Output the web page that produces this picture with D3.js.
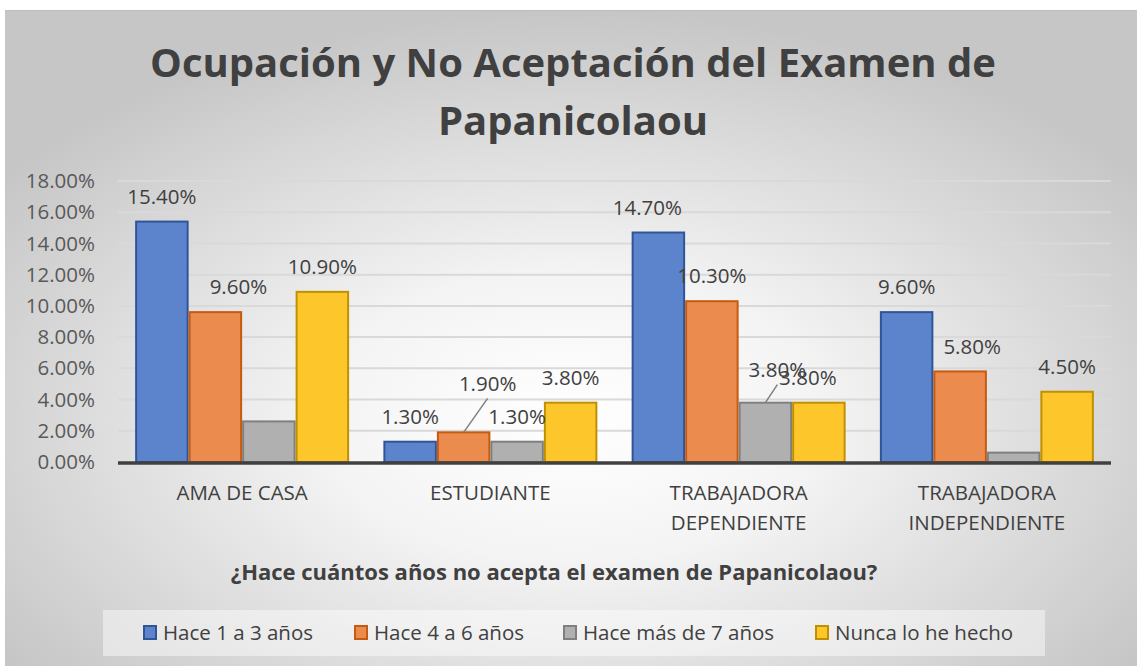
<!DOCTYPE html>
<html><head><meta charset="utf-8">
<script src="https://cdn.jsdelivr.net/npm/d3@7"></script>
<style>body{margin:0;background:#fff}svg{display:block}</style>
</head><body>
<svg id="c" width="1137" height="666"></svg>
<script>
const categories = [["AMA DE CASA"], ["ESTUDIANTE"], ["TRABAJADORA", "DEPENDIENTE"], ["TRABAJADORA", "INDEPENDIENTE"]];
const seriesNames = ["Hace 1 a 3 años", "Hace 4 a 6 años", "Hace más de 7 años", "Nunca lo he hecho"];
const hace1a3 = [15.4, 1.3, 14.7, 9.6];
const hace4a6 = [9.6, 1.9, 10.3, 5.8];
const haceMas7 = [2.6, 1.3, 3.8, 0.6];
const nunca = [10.9, 3.8, 3.8, 4.5];
const labelShown = [[true,true,true,true],[true,true,true,true],[false,true,true,false],[true,true,true,true]];
const yTicks = [0, 2, 4, 6, 8, 10, 12, 14, 16, 18];
const title = ["Ocupación y No Aceptación del Examen de", "Papanicolaou"];
const axisTitle = "¿Hace cuántos años no acepta el examen de Papanicolaou?";

const fills = ["#5b84cc", "#ec8b4e", "#b0b0b0", "#fdc62a"];
const strokes = ["#2f5597", "#c55a11", "#7f7f7f", "#bf9000"];
// label nudges (series, category) -> [dx, dy, leader]
const nudges = {"1-0":[23,0,false],"0-2":[-11,0,false],"2-2":[12,-8,true],"3-2":[-11,0,false],"1-3":[12,0,false],"1-1":[24,-24,true]};

const values = [hace1a3, hace4a6, haceMas7, nunca];
const svg = d3.select("#c");
const font = "'Open Sans', 'Noto Sans', sans-serif";

const defs = svg.append("defs");
const rg = defs.append("radialGradient").attr("id","bg").attr("cx","0.5").attr("cy","0.62").attr("r","0.62");
rg.append("stop").attr("offset","0").attr("stop-color","#ffffff");
rg.append("stop").attr("offset","0.35").attr("stop-color","#f4f4f4");
rg.append("stop").attr("offset","1").attr("stop-color","#c6c6c6");
svg.append("rect").attr("x",5).attr("y",10).attr("width",1132).attr("height",656).attr("fill","url(#bg)");
svg.append("line").attr("x1",5).attr("x2",1137).attr("y1",10.5).attr("y2",10.5).attr("stroke","#bdbdbd").attr("stroke-width",1);

const pLeft = 118, pRight = 1111, pTop = 181, pBottom = 462;
const x0 = d3.scaleBand().domain(d3.range(categories.length)).range([pLeft, pRight]).paddingInner(0.138).paddingOuter(0.069);
const x1 = d3.scaleBand().domain(d3.range(seriesNames.length)).range([0, x0.bandwidth()]);
const y = d3.scaleLinear().domain([0, 18]).range([pBottom, pTop]);

// gridlines
svg.append("g").selectAll("line").data(yTicks.filter(d=>d>0)).join("line")
  .attr("x1",pLeft).attr("x2",pRight).attr("y1",d=>y(d)).attr("y2",d=>y(d))
  .attr("stroke","#d9d9d9").attr("stroke-width",2);

// y axis
const ya = svg.append("g").attr("transform",`translate(${pLeft},0)`)
  .call(d3.axisLeft(y).tickValues(yTicks).tickFormat(d=>d.toFixed(2)+"%").tickSize(0).tickPadding(23));
ya.select(".domain").remove();
ya.selectAll("text").attr("font-family",font).attr("font-size",20.5).attr("fill","#595959");

// bars
const g = svg.append("g");
values.forEach((vals, s) => {
  g.append("g").selectAll("rect").data(vals).join("rect")
    .attr("x",(d,i)=>x0(i)+x1(s)+1).attr("width",x1.bandwidth()-2)
    .attr("y",d=>y(d)).attr("height",d=>pBottom-y(d))
    .attr("fill",fills[s]).attr("stroke",strokes[s]).attr("stroke-width",2);
});

// x axis line
svg.append("line").attr("x1",pLeft).attr("x2",pRight).attr("y1",pBottom+1).attr("y2",pBottom+1).attr("stroke","#404040").attr("stroke-width",3.5);

// labels
values.forEach((vals, s) => {
  vals.forEach((v, i) => {
    if (!labelShown[s][i]) return;
    const cx = x0(i)+x1(s)+x1.bandwidth()/2;
    const n = nudges[s+"-"+i] || [0,0,false];
    const tx = cx + n[0], ty = y(v) - 25 + n[1];
    if (n[2]) {
      svg.append("line").attr("x1",cx).attr("y1",y(v)).attr("x2",cx+n[0]).attr("y2",ty+15)
        .attr("stroke","#7f7f7f").attr("stroke-width",1.5);
    }
    svg.append("text").attr("x",tx).attr("y",ty).attr("dy","0.35em").attr("text-anchor","middle")
      .attr("font-family",font).attr("font-size",20.5).attr("fill","#404040").text(v.toFixed(2)+"%");
  });
});

// category labels
categories.forEach((lines, i) => {
  const t = svg.append("text").attr("text-anchor","middle").attr("font-family",font).attr("font-size",20.5).attr("fill","#404040");
  lines.forEach((l, k) => t.append("tspan").attr("x",x0(i)+x0.bandwidth()/2).attr("y",493+k*30).attr("dy","0.35em").text(l));
});

// title
title.forEach((l,k)=>svg.append("text").attr("x",573).attr("y",63+k*58).attr("dy","0.35em").attr("text-anchor","middle")
  .attr("font-family",font).attr("font-weight","bold").attr("font-size",40).attr("fill","#404040").text(l));

// axis title
svg.append("text").attr("x",554).attr("y",572).attr("dy","0.35em").attr("text-anchor","middle")
  .attr("font-family",font).attr("font-weight","bold").attr("font-size",22).attr("fill","#404040").text(axisTitle);

// legend
svg.append("rect").attr("x",103).attr("y",610).attr("width",942).attr("height",46).attr("fill","#ffffff").attr("fill-opacity",0.45);
const legX = [143, 354, 563, 815];
seriesNames.forEach((nm, s) => {
  svg.append("rect").attr("x",legX[s]+1).attr("y",626).attr("width",12).attr("height",13)
    .attr("fill",fills[s]).attr("stroke",strokes[s]).attr("stroke-width",2);
  svg.append("text").attr("x",legX[s]+20).attr("y",633).attr("dy","0.35em")
    .attr("font-family",font).attr("font-size",20.5).attr("fill","#404040").text(nm);
});
</script>
</body></html>
